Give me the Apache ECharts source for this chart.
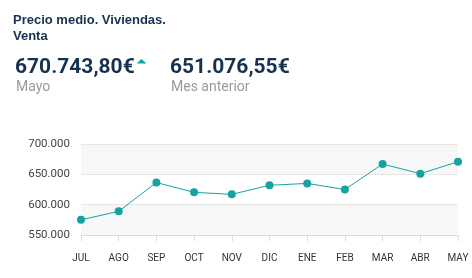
<!DOCTYPE html>
<html><head><meta charset="utf-8">
<script src="https://cdn.jsdelivr.net/npm/echarts@6/dist/echarts.min.js"></script>
<style>html,body{margin:0;padding:0;background:#fff}#c{width:472px;height:278px}</style>
</head><body><div id="c"></div>
<script>
const categories = ['JUL','AGO','SEP','OCT','NOV','DIC','ENE','FEB','MAR','ABR','MAY'];
const values = [575000, 589000, 636500, 620300, 617000, 632000, 635000, 625000, 667000, 651076.55, 670743.80];
const yTicks = [550000, 600000, 650000, 700000];
const titleText = 'Precio medio. Viviendas.\nVenta';
const currentValue = '670.743,80€';
const currentLabel = 'Mayo';
const previousValue = '651.076,55€';
const previousLabel = 'Mes anterior';

const fmt = v => v.toLocaleString('de-DE');
const chart = echarts.init(document.getElementById('c'));
chart.setOption({
  animation: false,
  title: [
    {text: titleText, left: 13, top: 12, padding: 0, textStyle: {fontFamily: 'Liberation Sans', fontWeight: 'bold', fontSize: 13, color: '#16324f', lineHeight: 16}},
    {text: currentValue, left: 15, top: 57, padding: 0, textStyle: {fontFamily: 'Roboto', fontWeight: 'bold', fontSize: 21, color: '#16324f'}},
    {text: currentLabel, left: 16, top: 80, padding: 0, textStyle: {fontFamily: 'Roboto', fontWeight: 'normal', fontSize: 14, color: '#9a9a9a'}},
    {text: previousValue, left: 170, top: 57, padding: 0, textStyle: {fontFamily: 'Roboto', fontWeight: 'bold', fontSize: 21, color: '#16324f'}},
    {text: previousLabel, left: 171, top: 80, padding: 0, textStyle: {fontFamily: 'Roboto', fontWeight: 'normal', fontSize: 14, color: '#9a9a9a'}}
  ],
  graphic: [{type: 'polygon', shape: {points: [[136.5, 63.5], [146.5, 63.5], [141.5, 59]]}, style: {fill: '#17a2a2'}}],
  grid: {left: 81, right: 14, top: 144, bottom: 43},
  xAxis: {
    type: 'category', data: categories, boundaryGap: false,
    axisLine: {lineStyle: {color: '#dcdcdc'}},
    axisTick: {show: true, length: 6, lineStyle: {color: '#dcdcdc'}},
    axisLabel: {fontFamily: 'Roboto', fontSize: 10, color: '#333', margin: 18}
  },
  yAxis: {
    type: 'value', min: yTicks[0], max: yTicks[yTicks.length-1], interval: 50000,
    axisLine: {show: false}, axisTick: {show: false},
    axisLabel: {fontFamily: 'Roboto', fontSize: 11.5, color: '#444', margin: 11, formatter: fmt},
    splitLine: {lineStyle: {color: '#e6e6e6'}},
    splitArea: {show: true, areaStyle: {color: ['#f7f7f7', '#ffffff']}}
  },
  series: [{
    type: 'line', data: values, symbol: 'circle', symbolSize: 8,
    lineStyle: {color: '#17a2a2', width: 1},
    itemStyle: {color: '#17a2a2'}
  }]
});
</script></body></html>
